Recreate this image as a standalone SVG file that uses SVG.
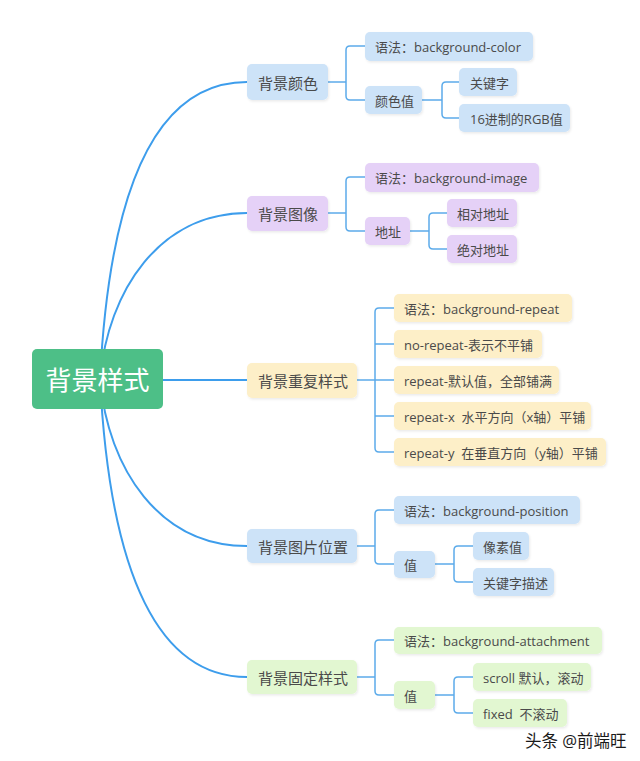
<svg xmlns="http://www.w3.org/2000/svg" width="640" height="761" viewBox="0 0 640 761">
<style>
text{font-family:"Open Sans","Noto Sans","Noto Sans CJK SC",sans-serif;fill:#4a4a4a;dominant-baseline:central}
.t1{font-size:15px}
.t2{font-size:13px}
.root text{font-size:26px;fill:#ffffff;text-anchor:middle}
.blue{fill:#cde3f8}
.purple{fill:#e5d1f7}
.yellow{fill:#fdefc8}
.green{fill:#e2f7d1}
.curve{fill:none;stroke:#3d9dec;stroke-width:2}
.br{fill:none;stroke:#5cabea;stroke-width:1.5}
.box{filter:url(#sh)}
</style>
<defs>
<filter id="sh" x="-10%" y="-20%" width="120%" height="150%">
<feDropShadow dx="1" dy="1.5" stdDeviation="1" flood-color="#000" flood-opacity="0.08"/>
</filter>
</defs>
<rect width="640" height="761" fill="#ffffff"/>
<g id="connectors">
<path class="curve" d="M100,379 C110,180 160,82 247,82"/>
<path class="curve" d="M100,379 C108,290 160,213 247,213"/>
<path class="curve" d="M163,380 H247"/>
<path class="curve" d="M100,379 C108,470 160,546 247,546"/>
<path class="curve" d="M100,379 C110,578 160,677 247,677"/>
<path class="br" d="M328,82 H346 M365,46 H350 Q346,46 346,50 V96 Q346,100 350,100 H365"/>
<path class="br" d="M422,100 H442 M459,82 H446 Q442,82 442,86 V114 Q442,118 446,118 H459"/>
<path class="br" d="M328,213 H346 M365,177 H350 Q346,177 346,181 V227 Q346,231 350,231 H365"/>
<path class="br" d="M410,231 H429 M447,213 H433 Q429,213 429,217 V245 Q429,249 433,249 H447"/>
<path class="br" d="M357,380 H394 M394,308 H379 Q375,308 375,312 V448 Q375,452 379,452 H394 M375,344 H394 M375,416 H394"/>
<path class="br" d="M357,546 H375 M394,510 H379 Q375,510 375,514 V560 Q375,564 379,564 H394"/>
<path class="br" d="M435,564 H454 M473,546 H458 Q454,546 454,550 V578 Q454,582 458,582 H473"/>
<path class="br" d="M357,677 H375 M394,640 H379 Q375,640 375,644 V691 Q375,695 379,695 H394"/>
<path class="br" d="M435,695 H454 M473,677 H458 Q454,677 454,681 V709 Q454,713 458,713 H473"/>
</g>
<g id="root" class="root">
<rect x="32" y="349" width="131" height="60" rx="5" fill="#4dbf87"/>
<text x="97.5" y="380">背景样式</text>
</g>
<g id="n-color">
<rect class="box blue" x="247" y="64" width="81" height="36" rx="5"/>
<text class="t1" x="258" y="83">背景颜色</text>
</g>
<g id="n-color-syntax">
<rect class="box blue" x="365" y="32" width="168" height="29" rx="5"/>
<text class="t2" x="375" y="47">语法：background-color</text>
</g>
<g id="n-color-value">
<rect class="box blue" x="365" y="86" width="57" height="28" rx="5"/>
<text class="t2" x="375" y="100.5">颜色值</text>
</g>
<g id="n-color-keyword">
<rect class="box blue" x="459" y="68" width="58" height="28" rx="5"/>
<text class="t2" x="470" y="82.5">关键字</text>
</g>
<g id="n-color-rgb">
<rect class="box blue" x="459" y="104" width="111" height="28" rx="5"/>
<text class="t2" x="470" y="118.5">16进制的RGB值</text>
</g>
<g id="n-image">
<rect class="box purple" x="247" y="196" width="81" height="35" rx="5"/>
<text class="t1" x="258" y="214">背景图像</text>
</g>
<g id="n-image-syntax">
<rect class="box purple" x="365" y="163" width="174" height="29" rx="5"/>
<text class="t2" x="375" y="178">语法：background-image</text>
</g>
<g id="n-image-addr">
<rect class="box purple" x="365" y="217" width="45" height="28" rx="5"/>
<text class="t2" x="375" y="231.5">地址</text>
</g>
<g id="n-image-rel">
<rect class="box purple" x="447" y="199" width="70" height="28" rx="5"/>
<text class="t2" x="457" y="213.5">相对地址</text>
</g>
<g id="n-image-abs">
<rect class="box purple" x="447" y="235" width="70" height="28" rx="5"/>
<text class="t2" x="457" y="249.5">绝对地址</text>
</g>
<g id="n-repeat">
<rect class="box yellow" x="247" y="363" width="110" height="35" rx="5"/>
<text class="t1" x="258" y="381">背景重复样式</text>
</g>
<g id="n-repeat-syntax">
<rect class="box yellow" x="394" y="294" width="178" height="28" rx="5"/>
<text class="t2" x="404" y="308.5">语法：background-repeat</text>
</g>
<g id="n-repeat-no">
<rect class="box yellow" x="394" y="330" width="148" height="28" rx="5"/>
<text class="t2" x="404" y="344.5">no-repeat-表示不平铺</text>
</g>
<g id="n-repeat-default">
<rect class="box yellow" x="394" y="366" width="165" height="28" rx="5"/>
<text class="t2" x="404" y="380.5">repeat-默认值，全部铺满</text>
</g>
<g id="n-repeat-x">
<rect class="box yellow" x="394" y="402" width="197" height="28" rx="5"/>
<text class="t2" x="404" y="416.5" xml:space="preserve">repeat-x  水平方向（x轴）平铺</text>
</g>
<g id="n-repeat-y">
<rect class="box yellow" x="394" y="438" width="212" height="28" rx="5"/>
<text class="t2" x="404" y="452.5" xml:space="preserve">repeat-y  在垂直方向（y轴）平铺</text>
</g>
<g id="n-position">
<rect class="box blue" x="247" y="529" width="110" height="34" rx="5"/>
<text class="t1" x="258" y="546.5">背景图片位置</text>
</g>
<g id="n-position-syntax">
<rect class="box blue" x="394" y="496" width="186" height="28" rx="5"/>
<text class="t2" x="404" y="510.5">语法：background-position</text>
</g>
<g id="n-position-value">
<rect class="box blue" x="394" y="551" width="41" height="27" rx="5"/>
<text class="t2" x="404" y="565">值</text>
</g>
<g id="n-position-px">
<rect class="box blue" x="473" y="532" width="56" height="28" rx="5"/>
<text class="t2" x="483" y="546.5">像素值</text>
</g>
<g id="n-position-kw">
<rect class="box blue" x="473" y="568" width="81" height="28" rx="5"/>
<text class="t2" x="483" y="582.5">关键字描述</text>
</g>
<g id="n-attach">
<rect class="box green" x="247" y="660" width="110" height="34" rx="5"/>
<text class="t1" x="258" y="677.5">背景固定样式</text>
</g>
<g id="n-attach-syntax">
<rect class="box green" x="394" y="627" width="208" height="27" rx="5"/>
<text class="t2" x="404" y="641">语法：background-attachment</text>
</g>
<g id="n-attach-value">
<rect class="box green" x="394" y="681" width="41" height="28" rx="5"/>
<text class="t2" x="404" y="695.5">值</text>
</g>
<g id="n-attach-scroll">
<rect class="box green" x="473" y="663" width="118" height="28" rx="5"/>
<text class="t2" x="483" y="677.5">scroll 默认，滚动</text>
</g>
<g id="n-attach-fixed">
<rect class="box green" x="473" y="699" width="94" height="28" rx="5"/>
<text class="t2" x="483" y="713.5" xml:space="preserve">fixed  不滚动</text>
</g>
<g id="credit">
<text x="525" y="740" style="font-size:16.5px;fill:#1a1a1a">头条 @前端旺</text>
</g>
</svg>
